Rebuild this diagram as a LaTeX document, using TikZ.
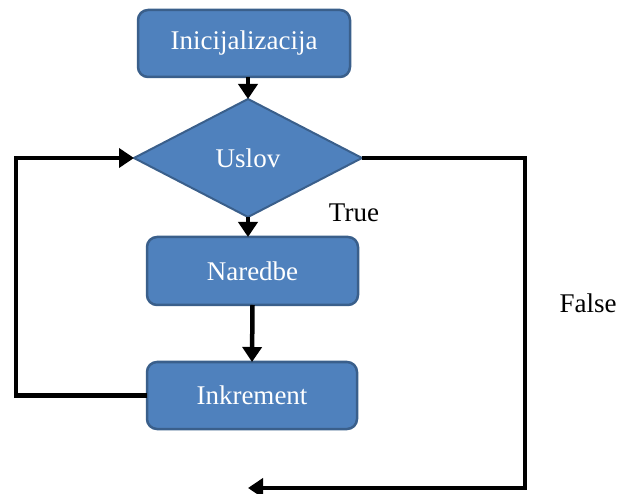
\documentclass[tikz,border=0pt]{standalone}
\usepackage{fontspec}
\setmainfont{Liberation Serif}
\usetikzlibrary{shapes.geometric,arrows.meta}
\definecolor{boxfill}{HTML}{4F81BD}
\definecolor{boxline}{HTML}{3A5F8B}
\tikzset{
  procbox/.style={draw=boxline, fill=boxfill, line width=2.5pt, rounded corners=10pt,
    text=white, font=\fontsize{27}{30}\selectfont, inner sep=0pt, outer sep=0pt},
  decbox/.style={draw=boxline, fill=boxfill, line width=2pt, diamond, aspect=1.93,
    minimum width=228pt, minimum height=118pt, inner sep=0pt, outer sep=0pt,
    text=white, font=\fontsize{27}{30}\selectfont},
  conn/.style={line width=4.5pt, -{Triangle[length=15pt,width=19pt]}},
  lbl/.style={font=\fontsize{27}{30}\selectfont, text=black, inner sep=0pt},
}
\begin{document}
\begin{tikzpicture}[x=1pt,y=-1pt]
\useasboundingbox (0,0) rectangle (632,494);
\node[procbox, minimum width=212pt, minimum height=67pt] (init) at (244,43.5) {Inicijalizacija};
\node[decbox] (uslov) at (248,158) {Uslov};
\node[procbox, minimum width=211pt, minimum height=68pt] (nar) at (252.5,271) {Naredbe};
\node[procbox, minimum width=210pt, minimum height=67pt] (ink) at (252,395.5) {Inkrement};
\node[lbl] (true) at (354,213) {True};
\node[lbl] (false) at (588,303) {False};
\coordinate (lc) at (16,395.5);
\coordinate (fr) at (525,488);
\coordinate (fend) at (248,488);
\draw[conn] (init.south -| uslov.north) -- (uslov.north);
\draw[conn] (uslov.south) -- (uslov.south |- nar.north);
\draw[conn] (nar.south) -- (ink.north);
\draw[conn] (ink.west) -- (lc) |- (uslov.west);
\draw[conn] (uslov.east) -| (fr) -- (fend);
\end{tikzpicture}
\end{document}
